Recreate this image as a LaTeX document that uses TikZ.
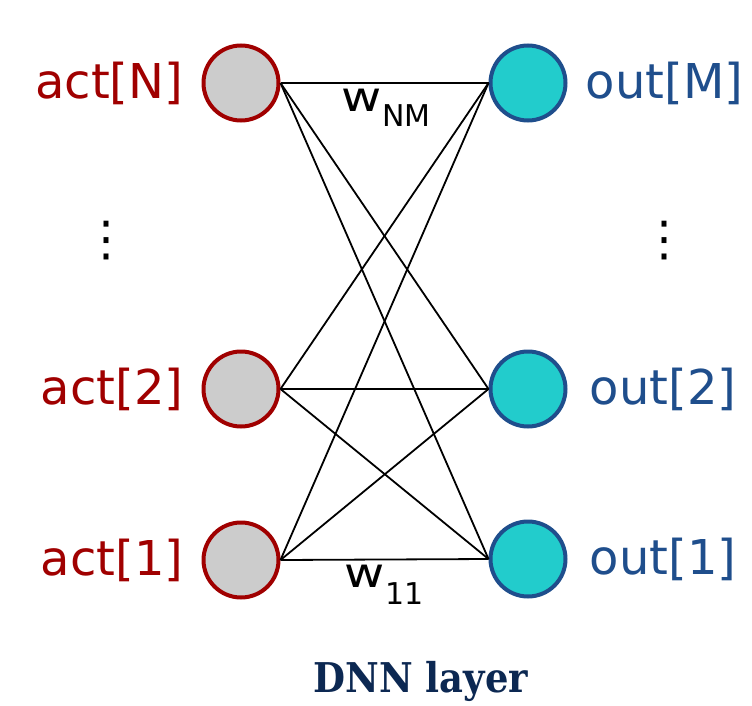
\documentclass[tikz,border=0pt]{standalone}
\usepackage{fontspec}
\setmainfont{DejaVu Sans}
\newfontfamily\slabfont{DejaVu Serif Condensed}
\usetikzlibrary{positioning}
\definecolor{actred}{RGB}{160,0,0}
\definecolor{outblue}{RGB}{31,78,140}
\definecolor{cellgray}{RGB}{204,204,204}
\definecolor{cellcyan}{RGB}{34,204,204}
\definecolor{layernavy}{RGB}{12,40,82}
\newcommand{\wsub}[2]{\scalebox{1.2}[1]{w}\kern1pt\raisebox{-#2}{\fontsize{30}{36}\selectfont #1}}
\tikzset{
	actcell/.style={
		circle, draw=actred, fill=cellgray,
		line width=4pt, minimum size=75pt, inner sep=0pt,
	},
	outcell/.style={
		circle, draw=outblue, fill=cellcyan,
		line width=4pt, minimum size=75pt, inner sep=0pt,
	},
	actlabel/.style={text=actred, inner sep=0pt, font=\fontsize{48}{58}\selectfont},
	outlabel/.style={text=outblue, inner sep=0pt, font=\fontsize{48}{58}\selectfont},
	weight/.style={draw, line width=1.8pt},
	wlabel/.style={inner sep=0pt, anchor=base west, font=\fontsize{41}{48}\selectfont},
}

\begin{document}
\begin{tikzpicture}[x=1pt, y=-1pt, node distance=18pt]
	\useasboundingbox (0,0) rectangle (752,706);

	\node [actcell] (aN) at (241,83) {};
	\node [actcell] (a2) at (241,389) {};
	\node [actcell] (a1) at (241,560) {};
	\node [outcell] (oM) at (528,83) {};
	\node [outcell] (o2) at (528,389) {};
	\node [outcell] (o1) at (528,559) {};

	\node [actlabel, left=of aN] (laN) {act[N]};
	\node [actlabel, left=of a2] (la2) {act[2]};
	\node [actlabel, left=of a1] (la1) {act[1]};
	\node [outlabel, right=of oM] (loM) {out[M]};
	\node [outlabel, right=of o2, xshift=4pt] (lo2) {out[2]};
	\node [outlabel, right=of o1, xshift=4pt] (lo1) {out[1]};

	\node [font=\fontsize{48}{58}\selectfont] (dl) at (106,241) {⋮};
	\node [font=\fontsize{48}{58}\selectfont] (dr) at (664,241) {⋮};

	% every input feeds every output
	\foreach \a in {a1,a2,aN}
		\foreach \o in {o1,o2,oM}
			\path [weight] (\a.east) -- (\o.west);

	\node [wlabel] (wNM) at (341,112) {\wsub{NM}{15pt}};
	\node [wlabel] (w11) at (344,587) {\wsub{11}{17pt}};

	\node [anchor=base, text=layernavy, font=\slabfont\bfseries\fontsize{41}{48}\selectfont] (title) at (421,692) {DNN layer};
\end{tikzpicture}
\end{document}
